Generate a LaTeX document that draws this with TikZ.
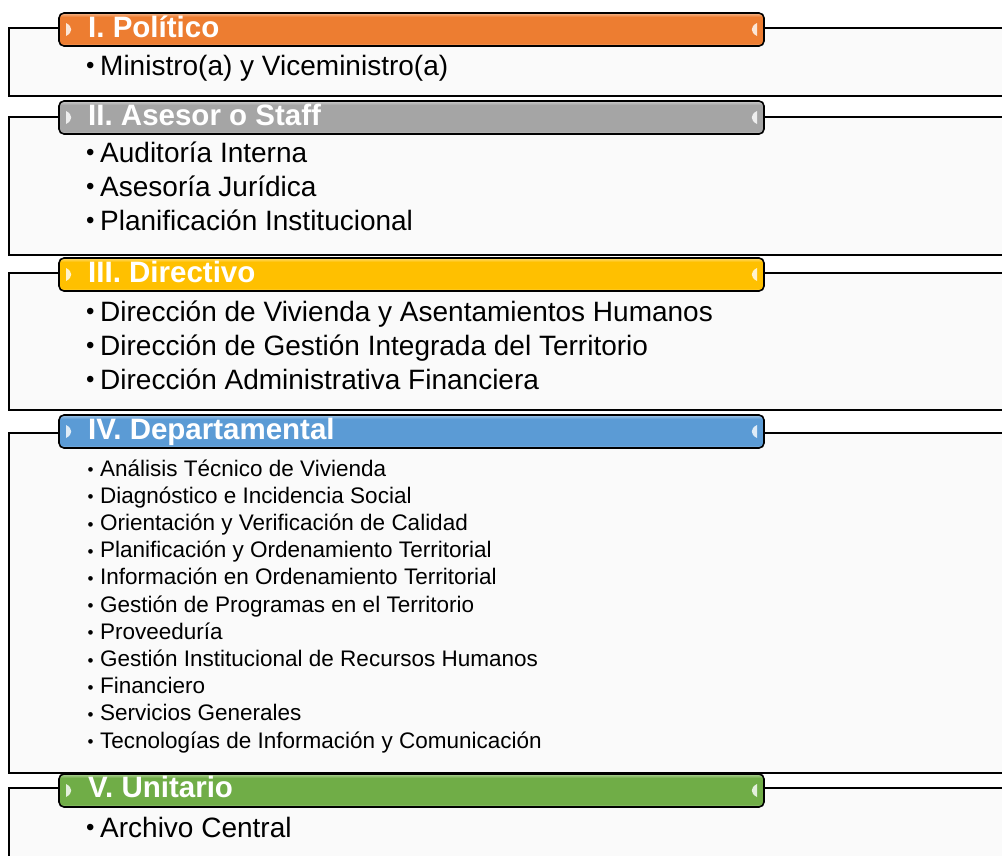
\documentclass[tikz,border=0pt]{standalone}
\usepackage{fontspec}
\setmainfont{Liberation Sans}
\usetikzlibrary{calc}
\definecolor{polC}{HTML}{ED7D31}
\definecolor{aseC}{HTML}{A5A5A5}
\definecolor{dirC}{HTML}{FFC000}
\definecolor{depC}{HTML}{5B9BD5}
\definecolor{uniC}{HTML}{70AD47}
\definecolor{boxfill}{HTML}{FAFAFA}
% glossy vertical shading for the level bars
\newcommand\glossbar[2]{%
  \colorlet{#1lt}{#2!55!white}%
  \colorlet{#1mid}{#2}%
  \pgfdeclareverticalshading{#1gloss}{100bp}{%
    color(0bp)=(#1lt); color(25bp)=(#1lt); color(29bp)=(#1mid);
    color(69bp)=(#1mid); color(75bp)=(#1lt); color(100bp)=(#1lt)}}
\glossbar{pol}{polC}
\glossbar{ase}{aseC}
\glossbar{dir}{dirC}
\glossbar{dep}{depC}
\glossbar{uni}{uniC}
% list bullets: large lists and the compact departmental list
\newcommand\bigbul{\raisebox{1.5pt}{\fontsize{24}{24}\selectfont •}\hspace{5.6pt}}
\newcommand\smallbul{\raisebox{0.3pt}{\fontsize{17}{17}\selectfont •}\hspace{6.5pt}}
\begin{document}
\begin{tikzpicture}[x=1pt,y=-1pt,
  secbox/.style={draw=black, line width=1.6pt, fill=boxfill, rectangle,
    anchor=north west, minimum width=1003pt, inner sep=0pt, outer sep=0pt},
  hdrbar/.style={draw=black, line width=1.6pt, rounded corners=5pt,
    shading=#1gloss, rectangle, anchor=north west, minimum width=705pt,
    minimum height=33pt, inner sep=0pt, outer sep=0pt},
  htext/.style={anchor=base west, inner sep=0pt, text=white,
    font=\fontsize{29.5}{29.5}\selectfont\bfseries},
  bigitem/.style={anchor=base west, inner sep=0pt, text=black,
    font=\fontsize{28}{28}\selectfont},
  smallitem/.style={anchor=base west, inner sep=0pt, text=black,
    font=\fontsize{22.5}{22.5}\selectfont}]
\useasboundingbox (0,0) rectangle (1002,855);
\clip (0,0) rectangle (1002,855);

% section frames
\node[secbox, minimum height=68pt]  (b1) at (9,28)  {};
\node[secbox, minimum height=138pt] (b2) at (9,117) {};
\node[secbox, minimum height=137pt] (b3) at (9,273) {};
\node[secbox, minimum height=340pt] (b4) at (9,433) {};
\node[secbox, minimum height=92pt]  (b5) at (9,788) {};

% level bars with their end markers
\foreach \nm/\col/\top in {h1/pol/13, h2/ase/101, h3/dir/258, h4/dep/415, h5/uni/774}{
  \node[hdrbar=\col] (\nm) at (59,\top) {};
  \fill[\col lt!35!white] ($(\nm.west)+(7,-6.5)$) .. controls
    ($(\nm.west)+(14,-3)$) and ($(\nm.west)+(14,3)$) .. ($(\nm.west)+(7,6.5)$) -- cycle;
  \fill[\col lt!35!white] ($(\nm.east)+(-7,-6.5)$) .. controls
    ($(\nm.east)+(-14,-3)$) and ($(\nm.east)+(-14,3)$) .. ($(\nm.east)+(-7,6.5)$) -- cycle;
}

% level titles
\node[htext] (t1) at (88,37)  {I. Político};
\node[htext] (t2) at (88,125) {II. Asesor o Staff};
\node[htext] (t3) at (88,282) {III. Directivo};
\node[htext] (t4) at (88,439) {IV. Departamental};
\node[htext] (t5) at (88,797) {V. Unitario};

% I. Político
\node[bigitem] (i11) at (86,75) {\bigbul Ministro(a) y Viceministro(a)};

% II. Asesor o Staff
\node[bigitem] (i21) at (86,162) {\bigbul Auditoría Interna};
\node[bigitem] (i22) at (86,196) {\bigbul Asesoría Jurídica};
\node[bigitem] (i23) at (86,230) {\bigbul Planificación Institucional};

% III. Directivo
\node[bigitem] (i31) at (86,321) {\bigbul Dirección de Vivienda y Asentamientos Humanos};
\node[bigitem] (i32) at (86,355) {\bigbul Dirección de Gestión Integrada del Territorio};
\node[bigitem] (i33) at (86,389) {\bigbul Dirección Administrativa Financiera};

% IV. Departamental
\foreach \k/\txt in {0/Análisis Técnico de Vivienda,
  1/Diagnóstico e Incidencia Social,
  2/Orientación y Verificación de Calidad,
  3/Planificación y Ordenamiento Territorial,
  4/Información en Ordenamiento Territorial,
  5/Gestión de Programas en el Territorio,
  6/Proveeduría,
  7/Gestión Institucional de Recursos Humanos,
  8/Financiero,
  9/Servicios Generales,
  10/Tecnologías de Información y Comunicación}{
  \node[smallitem] (i4\k) at (87.5,476+27.2*\k) {\smallbul\txt};
}

% V. Unitario
\node[bigitem] (i51) at (86,837) {\bigbul Archivo Central};
\end{tikzpicture}
\end{document}
